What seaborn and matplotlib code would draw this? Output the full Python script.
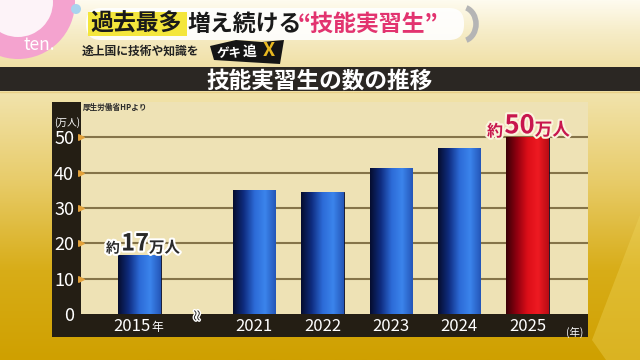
import numpy as np
import pandas as pd
import seaborn as sns
import matplotlib.pyplot as plt
import matplotlib.patheffects as pe
from matplotlib.colors import LinearSegmentedColormap
from matplotlib.patches import Rectangle, Wedge, Circle, FancyBboxPatch, Arc, Polygon

# data (万人)
years = ["2015", "2021", "2022", "2023", "2024", "2025"]
counts = [16.7, 35.2, 34.4, 41.3, 47.0, 50.0]
bar_kind = ["past", "past", "past", "past", "past", "latest"]
y_ticks = [0, 10, 20, 30, 40, 50]

sns.set_theme(style="white")
plt.rcParams["font.family"] = ["Noto Sans CJK JP", "DejaVu Sans"]

# 2015 sits left of an axis break, so leave a wider gap after it
gap = 1.674
pos = [0.0] + [gap + i for i in range(len(years) - 1)]
df = pd.DataFrame({"pos": pos, "count": counts, "kind": bar_kind})

fig = plt.figure(figsize=(6.4, 3.6), dpi=100)

# ---- background / broadcast frame, in pixel coords ----
bg = fig.add_axes([0, 0, 1, 1], zorder=-5)
bg.axis("off")
gold = LinearSegmentedColormap.from_list("gold", ["#f2e4ae", "#e8cc6a", "#d8ad18", "#cfa000"])
head = LinearSegmentedColormap.from_list("head", ["#fefbef", "#f6ecc6", "#f0e0a6"])
bg.imshow(np.linspace(0, 1, 256)[:, None], cmap=gold, extent=(0, 640, 360, 90), aspect="auto")
bg.imshow(np.linspace(0, 1, 64)[:, None], cmap=head, extent=(0, 640, 67, 0), aspect="auto")
bg.add_patch(Polygon([(592, 340), (640, 215), (640, 360), (606, 360)], fc="#f0d860", alpha=0.35, ec="none"))

# title band
bg.add_patch(Rectangle((0, 67), 640, 24, fc="#2b2723", ec="none"))
bg.plot([0, 640], [91.5, 91.5], color="#e9cf86", lw=1)
bg.text(320, 87.6, "技能実習生の数の推移", color="white", fontsize=16.3, fontweight="bold",
        ha="center", va="baseline")

# dark frame around the chart
bg.add_patch(Rectangle((52, 102), 536, 235, fc="#241e14", ec="none"))

# header: ten. ring, headline pill
bg.add_patch(Circle((18, 2), 36, fc="#fdf3f8", ec="none"))
bg.add_patch(Wedge((18, 2), 57, 0, 360, width=22, fc="#f4a3cf", ec="none"))
bg.add_patch(Circle((76, 9), 5, fc="#a9d3ee", ec="none"))
bg.text(24, 45, "ten.", color="white", fontsize=12.5, va="center")

bg.add_patch(FancyBboxPatch((86, 8), 378, 32, boxstyle="round,pad=0,rounding_size=15",
                            fc="white", ec="none", alpha=0.9))
bg.add_patch(Arc((462, 24), 28, 34, theta1=-75, theta2=75, lw=4, color="#b5b5b5"))
bg.add_patch(Rectangle((88, 12), 99, 24, fc="#f4e63c", ec="none"))
t1 = bg.text(90, 24, "過去最多", fontsize=16.5, fontweight="bold", color="#1a1a1a", va="center")
t2 = bg.annotate("増え続ける", xy=(1, 0.5), xycoords=t1, xytext=(4, 0), textcoords="offset points",
                 fontsize=16.5, fontweight="bold", color="#1a1a1a", va="center")
bg.annotate("“技能実習生”", xy=(1, 0.5), xycoords=t2, xytext=(-3, 0), textcoords="offset points",
            fontsize=16.5, fontweight="bold", color="#e2336f", va="center")

bg.text(82, 51, "途上国に技術や知識を", fontsize=8.5, fontweight="bold", color="#222222", va="center")
bg.add_patch(Polygon([(210, 46), (236, 40), (262, 42), (284, 40), (280, 64), (246, 62), (214, 60)],
                     fc="#151515", ec="none"))
bg.text(217, 54, "ゲキ", fontsize=9, fontweight="bold", color="white", va="center", style="italic")
bg.text(243, 52, "追", fontsize=10, fontweight="bold", color="white", va="center")
bg.text(263, 50, "X", fontsize=14, fontweight="bold", color="#e8b820", va="center")

bg.set_xlim(0, 640)
bg.set_ylim(360, 0)

# ---- chart ----
ax = fig.add_axes([81 / 640, 46 / 360, 507 / 640, 212 / 360], facecolor="#eee2b5")
sns.barplot(data=df, x="pos", y="count", hue="kind", native_scale=True, dodge=False,
            palette={"past": "#2a62c8", "latest": "#d8101a"}, width=0.62, saturation=1,
            legend=False, edgecolor="#0a0a20", linewidth=0.6, ax=ax)

blue_grad = LinearSegmentedColormap.from_list("bl", ["#050c2e", "#0f2d80", "#2c6ad6", "#3b84ec", "#2456b8"])
red_grad = LinearSegmentedColormap.from_list("rd", ["#3a0006", "#900010", "#dc0e18", "#ee1a22", "#b80c14"])
ramp = np.linspace(0, 1, 128)[None, :]
for bar in ax.patches:
    x0, w, h = bar.get_x(), bar.get_width(), bar.get_height()
    cm = red_grad if bar.get_facecolor()[0] > 0.5 else blue_grad
    im = ax.imshow(ramp, cmap=cm, extent=(x0, x0 + w, 0, h), aspect="auto",
                   zorder=bar.get_zorder() + 0.1)
    im.set_clip_path(bar)

ax.set_xlim(-0.855, 6.557)
ax.set_ylim(0, 60)
ax.set_yticks(y_ticks)
ax.yaxis.grid(True, color="#857449", lw=1.5)
ax.get_ygridlines()[0].set_visible(False)
ax.xaxis.grid(False)
ax.set_axisbelow(True)
for s in ax.spines.values():
    s.set_visible(False)
ax.set_xlabel("")
ax.set_ylabel("")

ax.set_xticks(pos)
ax.set_xticklabels([""] + years[1:])
ax.tick_params(axis="y", colors="white", labelsize=13, length=0, pad=5)
ax.tick_params(axis="x", colors="white", labelsize=12, length=0, pad=3)

# orange markers at the tick positions
ax.scatter(np.zeros(len(y_ticks) - 1), y_ticks[1:], marker=">", s=16, color="#e3a23c",
           transform=ax.get_yaxis_transform(), clip_on=False, zorder=6)

xa = ax.get_xaxis_transform()
lab = ax.annotate(years[0], xy=(pos[0], 0), xycoords=xa, xytext=(8.3, -3), textcoords="offset points",
                  ha="right", va="top", fontsize=12, color="white")
ax.annotate("年", xy=(1, 0), xycoords=lab, xytext=(0, 1), textcoords="offset points",
            ha="left", va="bottom", fontsize=8.5, color="white")
ax.annotate("(年)", xy=(0.974, 0), xycoords="axes fraction", xytext=(0, -13), textcoords="offset points",
            ha="center", va="center", fontsize=7.5, color="white")
ax.annotate("(万人)", xy=(0, 1), xycoords="axes fraction", xytext=(-10, -14.5), textcoords="offset points",
            ha="center", va="center", fontsize=7, color="white")
ax.text(0.004, 0.972, "厚生労働省HPより", transform=ax.transAxes, fontsize=5.5, fontweight="bold",
        color="#2a2a2a", ha="left", va="center")

# axis break mark between 2015 and 2021
ax.annotate("≈", xy=((pos[0] + pos[1]) / 2, 0), xycoords=xa, xytext=(1, -1), textcoords="offset points",
            rotation=90, ha="center", va="center", fontsize=10, color="#222222",
            path_effects=[pe.withStroke(linewidth=2, foreground="white")])

# value callouts
def callout(i, color, big, small, dx, dy, stroke):
    fx = [pe.withStroke(linewidth=3, foreground=stroke)]
    num = ax.annotate(f"{round(counts[i])}", xy=(pos[i], counts[i]), xytext=(dx, dy),
                      textcoords="offset points", ha="center", va="baseline",
                      fontsize=big, fontweight="bold", color=color, path_effects=fx)
    ax.annotate("約", xy=(0, 0), xycoords=num, xytext=(-1, 0), textcoords="offset points",
                ha="right", va="bottom", fontsize=small, fontweight="bold", color=color, path_effects=fx)
    ax.annotate("万人", xy=(1, 0), xycoords=num, xytext=(0, 0), textcoords="offset points",
                ha="left", va="bottom", fontsize=small + 1.2, fontweight="bold", color=color, path_effects=fx)

callout(0, "#2a2a2a", 17, 10, -3.2, 3.2, "white")
callout(5, "#c8164e", 18.5, 11.5, -5.8, 2.9, "#fbf3dc")

fig.savefig("out.png", dpi=100)
